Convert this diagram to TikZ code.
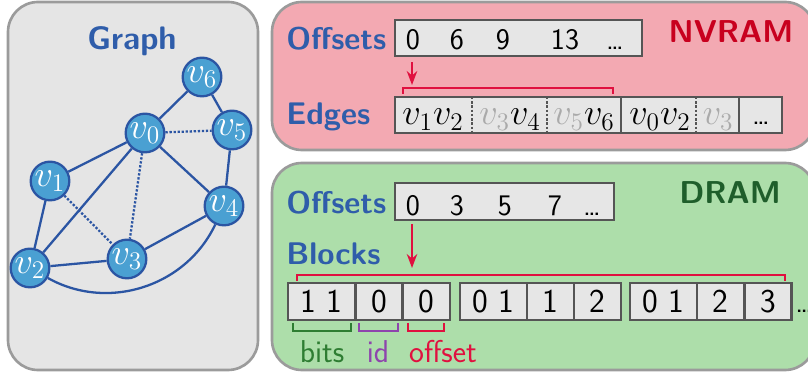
\documentclass[tikz,border=0pt]{standalone}
\usepackage{tikz}
\usetikzlibrary{arrows.meta}
\usepackage{xcolor}

\definecolor{nodeblue}{HTML}{4AA0D2}
\definecolor{edgeblue}{HTML}{2B55A3}
\definecolor{labblue}{HTML}{2F5DAA}
\definecolor{panelgray}{HTML}{9B9B9B}
\definecolor{graybg}{HTML}{E5E5E5}
\definecolor{pinkbg}{HTML}{F3A9B2}
\definecolor{greenbg}{HTML}{ADDEAA}
\definecolor{nvred}{HTML}{C8001E}
\definecolor{dramgreen}{HTML}{1F5E2B}
\definecolor{boxgray}{HTML}{555555}
\definecolor{boxfill}{HTML}{E6E6E6}
\definecolor{ptrred}{HTML}{E0103F}
\definecolor{bitsgreen}{HTML}{2E7D32}
\definecolor{idpurple}{HTML}{8E44AD}
\definecolor{ghost}{HTML}{AAAAAA}

\begin{document}
\begin{tikzpicture}[
    x = 0.02cm, y = -0.02cm,
    > = Stealth,
    vert/.style = {circle, draw=edgeblue, fill=nodeblue, line width=1.3pt,
        minimum size=22pt, inner sep=0pt, text=white,
        font=\fontsize{20}{21}\selectfont},
    edge/.style = {draw=edgeblue, line width=1.3pt},
    panel/.style = {draw=panelgray, line width=1.5pt, rounded corners=0.6cm},
    lab/.style = {anchor=base west, inner sep=0pt, text=labblue,
        font=\sffamily\bfseries\fontsize{17.8}{20}\selectfont},
    title/.style = {anchor=base, font=\sffamily\bfseries\fontsize{18}{20}\selectfont},
    box/.style = {draw=boxgray, fill=boxfill, line width=1.5pt, inner sep=0pt},
    num/.style = {anchor=base, font=\sffamily\fontsize{17}{19}\selectfont},
    cell/.style = {box, minimum height=0.74cm, font=\sffamily\fontsize{19}{21}\selectfont},
    elem/.style = {anchor=base, font=\fontsize{19.5}{21}\selectfont},
    sep/.style = {draw=boxgray, line width=1.4pt, densely dotted},
    ptr/.style = {->, draw=ptrred, line width=1.1pt},
    brk/.style = {line width=1.2pt},
    note/.style = {anchor=base, font=\sffamily\fontsize{18}{20}\selectfont}
]
    \clip (0,0) rectangle (808,374);

    % panels
    \draw[panel, fill=graybg] (8,2) rectangle (258,370);
    \draw[panel, fill=pinkbg] (272,2) rectangle (815,150);
    \draw[panel, fill=greenbg] (272,163) rectangle (815,370);

    % graph
    \node[title, text=labblue, font=\sffamily\bfseries\fontsize{18.5}{21}\selectfont] (gtitle) at (132,50) {Graph};
    \node[vert] (v0) at (145,133) {$v_0$};
    \node[vert] (v1) at (50,181) {$v_1$};
    \node[vert] (v2) at (30,268) {$v_2$};
    \node[vert] (v3) at (127,259) {$v_3$};
    \node[vert] (v4) at (224,206) {$v_4$};
    \node[vert] (v5) at (232,130) {$v_5$};
    \node[vert] (v6) at (202,77) {$v_6$};

    \path[edge]
        (v0) edge (v6)
        (v6) edge (v5)
        (v5) edge (v4)
        (v0) edge (v1)
        (v0) edge (v2)
        (v0) edge (v4)
        (v1) edge (v2)
        (v2) edge (v3)
        (v3) edge (v4)
        (v2) edge[bend right=47] (v4);
    \path[edge, densely dotted]
        (v0) edge (v5)
        (v0) edge (v3)
        (v1) edge (v3);

    % NVRAM
    \node[title, text=nvred] (nvram) at (731,43) {NVRAM};
    \node[lab] (nvofflab) at (286,50) {Offsets};
    \node[lab] (edgelab) at (286,125) {Edges};
    \node[box, minimum width=4.94cm, minimum height=0.72cm] (nvoff) at (518.5,38) {};
    \node[num] (nvo0) at (413,50) {0};
    \node[num] (nvo6) at (457,50) {6};
    \node[num] (nvo9) at (503,50) {9};
    \node[num] (nvo13) at (565,50) {13};
    \node[num] (nvodots) at (615,50) {\dots};

    \node[box, minimum width=4.52cm, minimum height=0.72cm] (eg1) at (508,115) {};
    \node[box, minimum width=2.36cm, minimum height=0.72cm] (eg2) at (680,115) {};
    \node[box, minimum width=0.86cm, minimum height=0.72cm] (eg3) at (760.5,115) {};
    \draw[sep] (472,97) -- (472,133);
    \draw[sep] (547,97) -- (547,133);
    \draw[sep] (696,97) -- (696,133);
    \node[elem] (e12) at (433,125) {$v_1v_2$};
    \node[elem] (e34) at (510,125) {${\color{ghost}v_3}v_4$};
    \node[elem] (e56) at (584,125) {${\color{ghost}v_5}v_6$};
    \node[elem] (e02) at (660,125) {$v_0v_2$};
    \node[elem] (e3) at (718,125) {${\color{ghost}v_3}$};
    \node[num] (edots) at (761,125) {\dots};

    \coordinate (nvtip) at (412,85);
    \draw[ptr] ([yshift=-5*0.02cm]nvoff.south -| nvtip) -- (nvtip);
    \draw[brk, draw=ptrred] (403,94) -- (403,88) -- (613,88) -- (613,94);

    % DRAM
    \node[title, text=dramgreen] (dram) at (730,204) {DRAM};
    \node[lab] (droffl) at (286,214) {Offsets};
    \node[lab] (blocklab) at (286,265) {Blocks};
    \node[box, minimum width=4.38cm, minimum height=0.74cm] (droff) at (504.5,201.5) {};
    \node[num] (dro0) at (413,216) {0};
    \node[num] (dro3) at (457,216) {3};
    \node[num] (dro5) at (505,216) {5};
    \node[num] (dro7) at (555,216) {7};
    \node[num] (drodots) at (592,216) {\dots};

    \node[cell, minimum width=1.34cm] (b1) at (321.5,301.5) {1 1};
    \node[cell, minimum width=0.94cm] (b2) at (379,301.5) {0};
    \node[cell, minimum width=0.94cm] (b3) at (426.5,301.5) {0};
    \node[cell, minimum width=1.34cm] (b4) at (493.5,301.5) {0 1};
    \node[cell, minimum width=0.94cm] (b5) at (550.5,301.5) {1};
    \node[cell, minimum width=0.94cm] (b6) at (597.5,301.5) {2};
    \node[cell, minimum width=1.34cm] (b7) at (663.5,301.5) {0 1};
    \node[cell, minimum width=0.94cm] (b8) at (720.5,301.5) {2};
    \node[cell, minimum width=0.94cm] (b9) at (768,301.5) {3};
    \node[num, anchor=base west, inner sep=0pt] (bdots) at (795,313) {\dots};

    \coordinate (drtip) at (412,268);
    \draw[ptr] ([yshift=-3*0.02cm]droff.south -| drtip) -- (drtip);
    \draw[brk, draw=ptrred] (297,281) -- (297,275) -- (785,275) -- (785,281);

    \draw[brk, draw=bitsgreen] (293,323) -- (293,331) -- (351,331) -- (351,323);
    \draw[brk, draw=idpurple] (359,323) -- (359,331) -- (398,331) -- (398,323);
    \draw[brk, draw=ptrred] (408,323) -- (408,331) -- (444,331) -- (444,323);
    \node[note, text=bitsgreen] (bits) at (322,363) {bits};
    \node[note, text=idpurple] (id) at (378,363) {id};
    \node[note, text=ptrred] (offset) at (443,363) {offset};
\end{tikzpicture}
\end{document}
